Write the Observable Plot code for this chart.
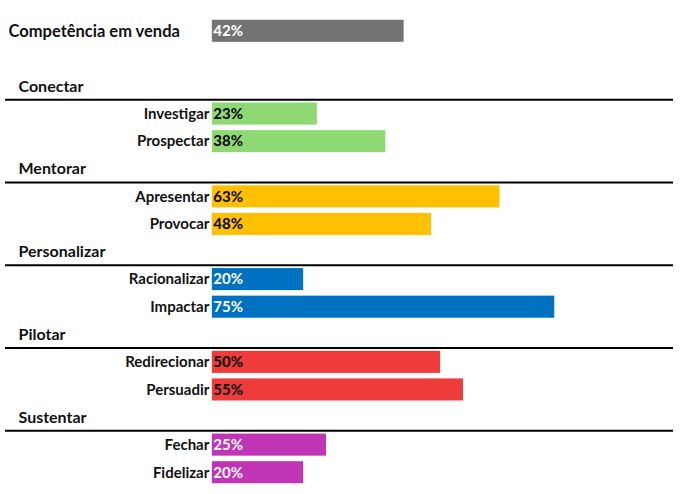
<!DOCTYPE html>
<html><head><meta charset="utf-8">
<script src="https://cdn.jsdelivr.net/npm/d3@7"></script>
<script src="https://cdn.jsdelivr.net/npm/@observablehq/plot@0.6"></script>
<style>
body{margin:0;background:#fff;}
svg{font-family:Lato,"Open Sans",sans-serif;}
</style></head>
<body><div id="chart"></div>
<script>
const overallLabel = "Competência em venda";
const overallValue = 42;
const overallColor = "#737373";
const groups = ["Conectar","Mentorar","Personalizar","Pilotar","Sustentar"];
const groupColors = ["#8FD974","#FFC000","#0070C0","#F03B3B","#C035B5"];
const groupTextColors = ["#000","#000","#fff","#000","#fff"];
const skills = [["Investigar","Prospectar"],["Apresentar","Provocar"],["Racionalizar","Impactar"],["Redirecionar","Persuadir"],["Fechar","Fidelizar"]];
const values = [[23,38],[63,48],[20,75],[50,55],[25,20]];

const slots = [overallLabel, "__gap"];
const bars = [{name: overallLabel, value: overallValue, fill: overallColor, tc: "#fff"}];
groups.forEach((g,i)=>{
  slots.push(g);
  skills[i].forEach((s,j)=>{
    slots.push(s);
    bars.push({name:s, value:values[i][j], fill:groupColors[i], tc:groupTextColors[i]});
  });
});
const skillBars = bars.slice(1);

const chart = Plot.plot({
  width: 696, height: 494,
  marginTop: 17, marginBottom: 8, marginLeft: 5, marginRight: 23,
  x: {domain: [-45.3, 101], axis: null},
  y: {domain: slots, axis: null, type: "band", paddingInner: 0.2, paddingOuter: 0.1, round: false},
  marks: [
    Plot.barX(bars, {x: "value", y: "name", fill: "fill"}),
    Plot.ruleY(groups, {y: d=>d, dy: 13.3, stroke: "#000", strokeWidth: 2}),
    Plot.text(groups, {y: d=>d, text: d=>d, frameAnchor: "left", dx: 13, fontSize: 16, fontWeight: "bold", fill: "#111"}),
    Plot.text([overallLabel], {y: d=>d, text: d=>d, frameAnchor: "left", dx: 3, fontSize: 16.5, fontWeight: "bold", fill: "#111"}),
    Plot.text(skillBars, {x: 0, y: "name", text: "name", textAnchor: "end", dx: -3, fontSize: 15, fontWeight: "bold", fill: "#111"}),
    Plot.text(bars, {x: 0, y: "name", text: d=>d.value+"%", textAnchor: "start", dx: 1, fontSize: 15, fontWeight: "bold", fill: "tc"})
  ]
});
document.getElementById("chart").append(chart);
</script></body></html>
